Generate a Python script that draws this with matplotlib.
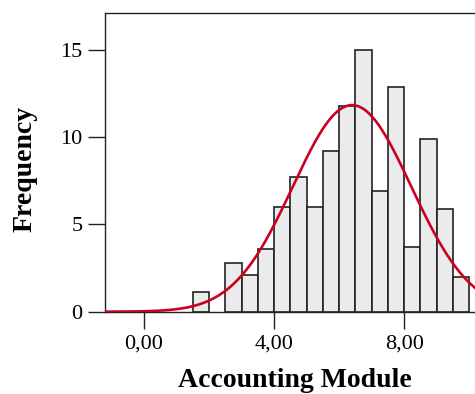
import numpy as np
import matplotlib
matplotlib.use('Agg')
import matplotlib.pyplot as plt

# histogram bins (left edges, width 0.5) and frequencies
bin_left = [1.5, 2.5, 3.0, 3.5, 4.0, 4.5, 5.0, 5.5, 6.0, 6.5, 7.0, 7.5, 8.0, 8.5, 9.0, 9.5]
freq = [1.1, 2.8, 2.1, 3.6, 6.0, 7.7, 6.0, 9.2, 11.8, 15.0, 6.9, 12.9, 3.7, 9.9, 5.9, 2.0]
bin_width = 0.5

# normal curve parameters (mean, std. dev., N)
curve_mean = 6.4
curve_sd = 1.82
curve_n = 108

xticks = [0, 4, 8]
xtick_labels = ['0,00', '4,00', '8,00']
yticks = [0, 5, 10, 15]

plt.rcParams['font.family'] = ['Liberation Serif', 'DejaVu Serif']

fig = plt.figure(figsize=(4.75, 3.94), dpi=100)
ax = fig.add_axes([0.2211, 0.2089, 0.7979, 0.7574])

ax.bar(bin_left, freq, width=bin_width, align='edge',
       color='#ebebeb', edgecolor='#222222', linewidth=1.2, zorder=2)

x = np.linspace(-1.2, 10.6, 400)
y = curve_n * bin_width * np.exp(-(x - curve_mean) ** 2 / (2 * curve_sd ** 2)) / (curve_sd * np.sqrt(2 * np.pi))
ax.plot(x, y, color='#cc0020', linewidth=1.9, zorder=3, solid_capstyle='round')

ax.set_xlim(-1.2, 10.46)
ax.set_ylim(0, 17.1)
ax.set_xticks(xticks)
ax.set_xticklabels(xtick_labels)
ax.set_yticks(yticks)
ax.tick_params(axis='both', direction='out', length=12.2, width=1.0,
               labelsize=16, color='#222222', pad=4)

for s in ax.spines.values():
    s.set_linewidth(1.0)
    s.set_color('#222222')

ax.set_xlabel('Accounting Module', fontsize=20, fontweight='bold')
ax.set_ylabel('Frequency', fontsize=20, fontweight='bold')
ax.xaxis.set_label_coords(0.5, -0.229)
ax.xaxis.label.set_va('center')
ax.yaxis.set_label_coords(-0.211, 0.48)
ax.yaxis.label.set_va('center')

fig.savefig('out.png', dpi=100)
